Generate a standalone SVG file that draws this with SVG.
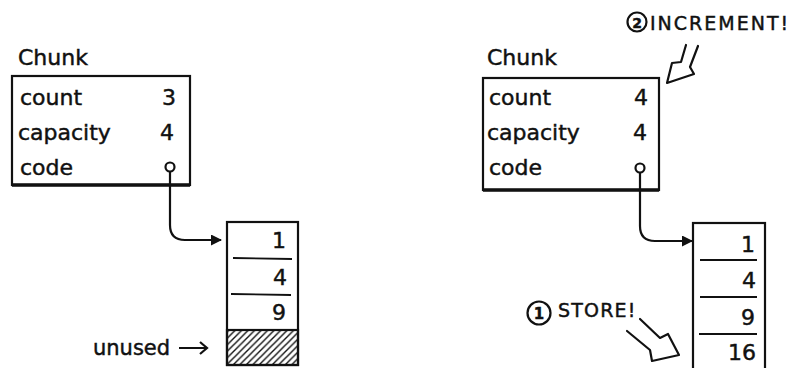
<svg xmlns="http://www.w3.org/2000/svg" width="799" height="368" viewBox="0 0 799 368">
<style>
text{font-family:"DejaVu Sans","Liberation Sans",sans-serif;fill:#111;stroke:#111;stroke-width:0.45}
.lbl{font-size:22px}
.num{font-size:22px;text-anchor:end}
.cap{font-size:19px}
.box{fill:none;stroke:#111;stroke-width:2.2}
.bot{stroke:#111;stroke-width:3.5}
.div{stroke:#111;stroke-width:1.8}
.conn{fill:none;stroke:#111;stroke-width:2.2}
.ptr{fill:#fff;stroke:#111;stroke-width:2.2}
.fat{fill:none;stroke:#111;stroke-width:2.2;stroke-linejoin:round;stroke-linecap:round}
</style>
<defs>
<marker id="ah" markerWidth="11" markerHeight="11" refX="10" refY="5.5" orient="auto" markerUnits="userSpaceOnUse">
<path d="M0,0 L11,5.5 L0,11 Z" fill="#111"/>
</marker>
<pattern id="hatch" width="6.5" height="6.5" patternUnits="userSpaceOnUse">
<path d="M0,6.5 L6.5,0 M-1,1 L1,-1 M5.5,7.5 L7.5,5.5" stroke="#111" stroke-width="1.4"/>
</pattern>
</defs>

<g id="chunk-left">
<text class="lbl" x="18" y="65">Chunk</text>
<rect class="box" x="12" y="76" width="178" height="109"/>
<line class="bot" x1="12" y1="185" x2="190" y2="185"/>
<text class="lbl" x="20" y="105">count</text>
<text class="lbl" x="18" y="140">capacity</text>
<text class="lbl" x="20" y="175">code</text>
<text class="num" x="176" y="105">3</text>
<text class="num" x="174" y="140">4</text>
</g>

<g id="array-left">
<rect class="box" x="227" y="222" width="71" height="143"/>
<rect x="227" y="330" width="71" height="35" fill="url(#hatch)" stroke="#111" stroke-width="2.2"/>
<line class="div" x1="233" y1="258" x2="292" y2="259"/>
<line class="div" x1="231" y1="294" x2="291" y2="295"/>
<text class="num" x="286" y="248">1</text>
<text class="num" x="287" y="285">4</text>
<text class="num" x="286" y="320">9</text>
<text class="lbl" x="93" y="355" style="font-size:21px">unused</text>
<path class="conn" d="M179,348 H207 M200,342 L207,348 L200,354"/>
</g>

<g id="chunk-right">
<text class="lbl" x="487" y="65">Chunk</text>
<rect class="box" x="483" y="78" width="176" height="112"/>
<line class="bot" x1="483" y1="190" x2="659" y2="190"/>
<text class="lbl" x="489" y="105">count</text>
<text class="lbl" x="487" y="140">capacity</text>
<text class="lbl" x="489" y="175">code</text>
<text class="num" x="648" y="105">4</text>
<text class="num" x="647" y="140">4</text>
</g>

<g id="array-right">
<rect class="box" x="693" y="223" width="72" height="150"/>
<line class="div" x1="700" y1="260" x2="757" y2="260"/>
<line class="div" x1="700" y1="297" x2="757" y2="297"/>
<line class="div" x1="699" y1="334" x2="757" y2="334"/>
<text class="num" x="755" y="252">1</text>
<text class="num" x="756" y="288">4</text>
<text class="num" x="755" y="325">9</text>
<text class="num" x="756" y="360">16</text>
</g>

<g id="note-increment">
<circle cx="637" cy="22" r="9.5" fill="none" stroke="#111" stroke-width="2.2"/>
<text x="637" y="27.5" style="font-size:14px;font-weight:bold;text-anchor:middle">2</text>
<text class="cap" x="650" y="30" style="letter-spacing:2px">INCREMENT!</text>
<path class="fat" d="M686,45 L681,62 L672,63 L667,83 L694,74 L690,67 L698,46"/>
</g>

<g id="note-store">
<circle cx="539" cy="313" r="11.5" fill="none" stroke="#111" stroke-width="2.2"/>
<text x="539" y="319" style="font-size:15px;font-weight:bold;text-anchor:middle">1</text>
<text class="cap" x="558" y="317" style="letter-spacing:1.2px">STORE!</text>
<path class="fat" d="M640,319 L660,338 L668,334 L679,355 L652,361 L650,350 L627,331"/>
</g>

<g id="connectors">
<path class="conn" d="M170,172 V225 Q170,240 185,240 H221" marker-end="url(#ah)"/>
<circle class="ptr" cx="170" cy="167" r="4.5"/>
<path class="conn" d="M640,173 V226 Q640,241 655,241 H692" marker-end="url(#ah)"/>
<circle class="ptr" cx="640" cy="168" r="4.5"/>
</g>
</svg>
